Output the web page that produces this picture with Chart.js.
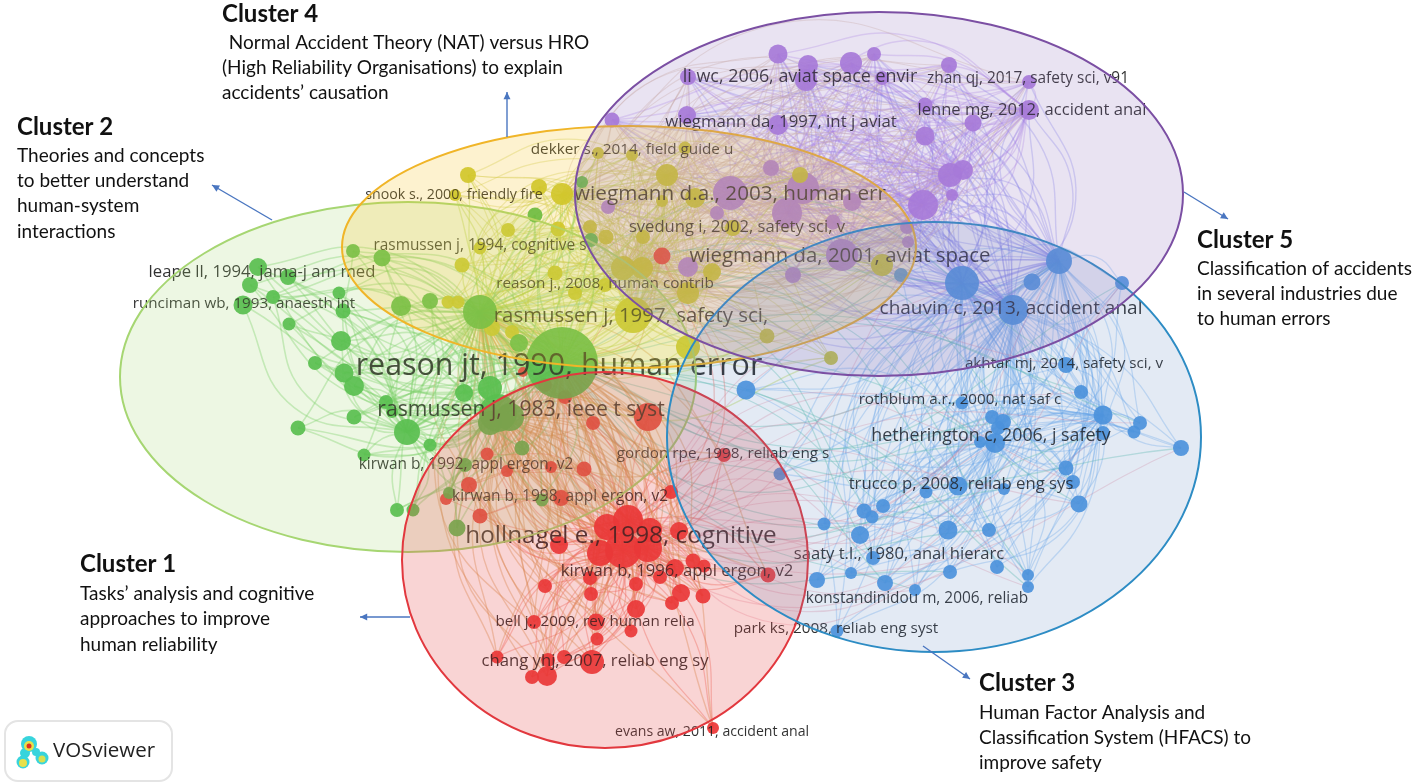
<!DOCTYPE html>
<html><head><meta charset="utf-8">
<style>html,body{margin:0;padding:0;background:#fff;overflow:hidden}#w{width:1416px;height:784px;position:relative}canvas{display:block;filter:blur(0.6px)}</style>
<script src="https://cdn.jsdelivr.net/npm/chart.js@4"></script>
</head><body><div id="w"><canvas id="c" width="1416" height="784"></canvas></div>
<script>
// [x, y, radius]; hubs come first in each list
const greenNodes=[[562,363,36],[480,312,17],[498,413,19],[407,432,13],[258,267,9],[243,305,9.5],[382,258,8.5],[510,417,14],[490,423,12],[490,388,12],[250,285,8],[273,297,7],[288,277,8],[353,251,7],[339,293,6.5],[343,311,7.5],[289,324,6.5],[341,341,10],[315,363,7],[344,373,9.5],[354,386,10],[401,306,10],[430,301,8],[519,343,9],[464,393,9],[386,402,7],[392,412,6],[354,417,7.5],[298,428,7.5],[430,445,6.5],[364,455,6.5],[522,448,7.5],[465,465,7],[449,493,6],[542,500,6.5],[413,510,6.5],[397,510,7],[457,528,8.5],[535,215,7.5],[591,240,7],[582,182,6]];
const yellowNodes=[[633,315,18],[667,175,11],[562,194,11],[688,293,11],[623,268,12],[642,268,11],[695,198,10],[688,347,12],[712,272,9],[882,265,11],[468,175,8],[539,187,8],[455,195,6],[508,230,7],[558,229,7.5],[462,265,7.5],[480,248,6.5],[555,273,7.5],[575,293,7],[605,285,7],[448,302,6.5],[458,302,6.5],[492,328,8],[512,332,7],[598,153,6],[632,155,6],[685,148,6.5],[590,227,7],[606,237,7.5],[643,237,7],[662,201,6],[733,228,8],[831,358,7],[767,336,7.5],[800,175,8]];
const purpleNodes=[[842,255,16],[730,193,17],[923,205,15],[803,188,16],[787,213,15],[950,175,12],[963,170,10],[1029,110,10],[806,80,11],[851,63,11],[778,54,9.5],[808,65,10],[874,54,7],[949,65,8],[1029,82,7],[688,77,8],[882,78,7],[687,115,9],[612,120,7.5],[778,125,10],[925,105,7.5],[973,123,8.5],[925,136,9.5],[952,195,6],[771,168,8],[608,207,7],[717,213,7],[852,202,9],[833,222,7.5],[907,227,7],[908,242,6],[688,267,10],[793,275,8]];
const blueNodes=[[962,283,17],[1013,310,15],[1059,261,13],[995,443,10],[1103,415,9.5],[958,486,9.5],[948,530,9.5],[1032,282,8.5],[1122,283,7],[901,275,7],[746,390,9.5],[1066,365,8],[1081,392,7],[962,403,6.5],[992,417,7],[1003,422,8],[998,428,7],[980,442,6],[1140,423,7],[1134,432,6.5],[1103,433,7],[1181,448,8],[1066,468,7.5],[1073,482,7],[1079,504,8.5],[926,492,6.5],[1004,489,6],[780,474,6.5],[864,511,7.5],[872,517,6.5],[883,506,7],[824,524,6.5],[989,530,7],[860,535,9],[817,580,8],[873,558,7],[885,583,8],[851,573,6],[950,572,7],[915,590,6],[997,567,7],[1028,575,6],[1028,587,6],[837,631,6.5]];
const redNodes=[[623,550,18],[628,520,15],[648,548,14],[600,553,13],[607,527,13],[650,530,12],[648,417,14],[592,662,12],[679,531,9],[559,545,9],[487,454,6.5],[507,471,6],[551,467,6],[584,469,7.5],[469,485,8],[446,499,6],[561,498,8],[480,516,7.5],[671,492,7],[724,455,7],[693,561,7.5],[704,566,6.5],[675,568,9],[660,577,7],[590,578,7],[545,586,7],[591,594,7],[636,584,7],[681,593,9],[672,603,7],[703,596,7.5],[768,575,7.5],[636,609,9],[534,622,7],[596,622,8.5],[631,631,6.5],[597,639,6.5],[497,657,6.5],[564,657,7],[548,660,7],[532,677,7],[547,676,10],[713,728,6],[593,423,7],[523,372,5],[545,385,7],[565,397,7],[662,256,8.5]];
const nodeColors={green:'rgba(72,186,72,0.92)',yellow:'rgba(200,200,45,0.92)',purple:'rgba(172,124,224,0.92)',blue:'rgba(74,150,226,0.92)',red:'rgba(236,52,52,0.92)'};
// cluster outlines: cx, cy, rx, ry, stroke, fill
const ellipses=[[408,377,288,175,'#a6d672','rgba(164,216,116,0.2)'],[629,247,287,121,'#f0b528','rgba(248,196,36,0.22)'],[605,560,203,188,'#e2383e','rgba(228,68,68,0.23)'],[934,437,267,215,'#2d8cc4','rgba(90,130,190,0.17)'],[879,194,304,182,'#7b4fa3','rgba(144,116,188,0.2)']];
// bundles of links: from, number of hubs, to, colour, width, take every n-th
const bundles=[
 [greenNodes,4,greenNodes,'rgba(110,205,100,0.36)',1.6,1],
 [greenNodes,2,yellowNodes,'rgba(185,215,80,0.4)',1.4,1],
 [yellowNodes,6,yellowNodes,'rgba(205,205,90,0.36)',1.2,1],
 [greenNodes,3,redNodes,'rgba(212,150,80,0.38)',1.4,1],
 [redNodes,3,redNodes,'rgba(240,110,95,0.38)',1.3,1],
 [redNodes,2,blueNodes,'rgba(225,130,150,0.28)',1.2,3],
 [greenNodes,2,blueNodes,'rgba(95,195,175,0.36)',1.3,3],
 [yellowNodes,6,purpleNodes,'rgba(215,190,170,0.38)',1.1,1],
 [purpleNodes,8,purpleNodes,'rgba(172,130,232,0.28)',1.4,1],
 [blueNodes,3,purpleNodes,'rgba(130,130,240,0.3)',1.4,1],
 [blueNodes,5,blueNodes,'rgba(105,170,238,0.32)',1.3,1]
];
// text, centre x, y, size
const nodeLabels=[["reason jt, 1990, human error",559,366,30.4],["rasmussen j, 1997, safety sci,",631,316,20.4],["rasmussen j, 1983, ieee t syst",521,410,21.2],["wiegmann d.a., 2003, human err",730,194,20.7],["wiegmann da, 2001, aviat space",840,256,20.4],["chauvin c, 2013, accident anal",1011,309,19],["hollnagel e., 1998, cognitive",621,536,24.3],["hetherington c, 2006, j safety",991,436,17.8],["leape ll, 1994, jama-j am med",262,272,16.7],["runciman wb, 1993, anaesth int",244,304,15.2],["rasmussen j, 1994, cognitive s",480,246,15.4],["snook s., 2000, friendly fire",454,195,14.2],["dekker s., 2014, field guide u",632,150,15.3],["reason j., 2008, human contrib",605,284,15.3],["svedung i, 2002, safety sci, v",737,227,16.6],["li wc, 2006, aviat space envir",800,77,17.9],["zhan qj, 2017, safety sci, v91",1028,79,15.4],["wiegmann da, 1997, int j aviat",781,122,16.8],["lenne mg, 2012, accident anal",1032,110,16.6],["akhtar mj, 2014, safety sci, v",1064,364,15.2],["rothblum a.r., 2000, nat saf c",960,400,15.2],["gordon rpe, 1998, reliab eng s",723,454,15.3],["kirwan b, 1992, appl ergon, v2",466,465,15.4],["kirwan b, 1998, appl ergon, v2",560,497,15.5],["trucco p, 2008, reliab eng sys",961,484,16.7],["kirwan b, 1996, appl ergon, v2",677,571,16.7],["saaty t.l., 1980, anal hierarc",899,554,16.6],["konstandinidou m, 2006, reliab",917,599,15.4],["bell j., 2009, rev human relia",595,622,15.2],["park ks, 2008, reliab eng syst",836,629,15.3],["chang yhj, 2007, reliab eng sy",595,661,16.7],["evans aw, 2011, accident anal",712,732,14.1]];
// text, x, y, bold
const notes=[["Cluster 4",222,14,1],[" Normal Accident Theory (NAT) versus HRO",224,43,0],["(High Reliability Organisations) to explain",222,68,0],["accidents’ causation",222,93,0],
["Cluster 2",17,127,1],["Theories and concepts",17,156,0],["to better understand",17,181,0],["human-system",17,206,0],["interactions",17,232,0],
["Cluster 5",1197,240,1],["Classification of accidents",1197,269,0],["in several industries due",1197,294,0],["to human errors",1197,319,0],
["Cluster 1",80,564,1],["Tasks’ analysis and cognitive",80,594,0],["approaches to improve",80,619,0],["human reliability",80,645,0],
["Cluster 3",979,683,1],["Human Factor Analysis and",979,713,0],["Classification System (HFACS) to",979,738,0],["improve safety",979,763,0]];
const arrows=[[507,137,507,92],[272,220,212,185],[1184,192,1228,219],[410,617,360,617],[923,646,970,679]];
const logoBlobs=[[29,744,8,'#38d4dc'],[25,753,5,'#38d4dc'],[23,762,6.5,'#38d4dc'],[36,752,4,'#38d4dc'],[42,758,6.5,'#38d4dc'],[29,746,5,'#e8e04a'],[23,763,4,'#e8e04a'],[42,759,3.5,'#d8e050'],[29,746,2.5,'#e03020']];

const edgeSets=[];
bundles.forEach(([from,hubs,to,color,width,step])=>{
  for(let h=0;h<hubs;h++){
    to.forEach((n,i)=>{
      if((i+h)%step) return;
      const a=from[h];
      if(a===n) return;
      const dx=n[0]-a[0],dy=n[1]-a[1],s=((i+h)%2?1:-1)*(0.12+0.06*(i%3));
      edgeSets.push({type:'line',order:3,data:[{x:a[0],y:a[1]},{x:(a[0]+n[0])/2-dy*s,y:(a[1]+n[1])/2+dx*s},{x:n[0],y:n[1]}],
        borderColor:color,borderWidth:width,pointRadius:0,tension:0.45,fill:false});
    });
  }
});
const nodeSet=(list,c)=>({type:'bubble',order:1,data:list.map(n=>({x:n[0],y:n[1],r:n[2]})),backgroundColor:c,borderWidth:0,hoverRadius:0});

const overlay={id:'overlay',afterDatasetsDraw(chart){
  const {ctx,scales:{x,y}}=chart;
  ctx.save();
  ctx.textBaseline='middle';ctx.textAlign='center';ctx.fillStyle='rgba(25,25,25,0.9)';
  nodeLabels.forEach(([t,lx,ly,s])=>{ctx.font=s+'px "Open Sans"';ctx.fillText(t,x.getPixelForValue(lx),y.getPixelForValue(ly));});
  ellipses.forEach(([cx,cy,rx,ry,st,fi])=>{
    const px=x.getPixelForValue(cx),py=y.getPixelForValue(cy);
    const prx=x.getPixelForValue(cx+rx)-px,pry=y.getPixelForValue(cy+ry)-py;
    ctx.beginPath();ctx.ellipse(px,py,prx,Math.abs(pry),0,0,Math.PI*2);
    ctx.fillStyle=fi;ctx.fill();ctx.strokeStyle=st;ctx.lineWidth=2;ctx.stroke();
  });
  ctx.strokeStyle='#4a76c0';ctx.fillStyle='#4a76c0';ctx.lineWidth=1.4;
  arrows.forEach(([a,b,c,d])=>{
    const x0=x.getPixelForValue(a),y0=y.getPixelForValue(b),x1=x.getPixelForValue(c),y1=y.getPixelForValue(d);
    const t=Math.atan2(y1-y0,x1-x0);
    ctx.beginPath();ctx.moveTo(x0,y0);ctx.lineTo(x1,y1);ctx.stroke();
    ctx.beginPath();ctx.moveTo(x1,y1);ctx.lineTo(x1-8*Math.cos(t-0.45),y1-8*Math.sin(t-0.45));ctx.lineTo(x1-8*Math.cos(t+0.45),y1-8*Math.sin(t+0.45));ctx.closePath();ctx.fill();
  });
  ctx.textAlign='left';ctx.fillStyle='#111';
  notes.forEach(([t,a,b,bold])=>{ctx.font=bold?'bold 24px Lato':'19px Lato';ctx.fillText(t,x.getPixelForValue(a),y.getPixelForValue(b));});
  // logo
  ctx.beginPath();ctx.roundRect(5,721,167,60,13);ctx.fillStyle='#fff';ctx.fill();ctx.strokeStyle='#e4e4e4';ctx.lineWidth=2;ctx.stroke();
  logoBlobs.forEach(([a,b,r,c])=>{ctx.beginPath();ctx.arc(x.getPixelForValue(a),y.getPixelForValue(b),r,0,Math.PI*2);ctx.fillStyle=c;ctx.fill();});
  ctx.fillStyle='#222';ctx.font='20.5px "Open Sans"';ctx.fillText('VOSviewer',53,751);
  ctx.restore();
}};
new Chart(document.getElementById('c'),{
  type:'bubble',
  data:{datasets:[...edgeSets,nodeSet(greenNodes,nodeColors.green),nodeSet(yellowNodes,nodeColors.yellow),nodeSet(purpleNodes,nodeColors.purple),nodeSet(blueNodes,nodeColors.blue),nodeSet(redNodes,nodeColors.red)]},
  options:{responsive:false,animation:false,events:[],layout:{padding:0,autoPadding:false},
    plugins:{legend:{display:false},tooltip:{enabled:false}},
    scales:{x:{type:'linear',min:0,max:1416,display:false},y:{type:'linear',min:0,max:784,reverse:true,display:false}}},
  plugins:[overlay]
});
</script></body></html>
